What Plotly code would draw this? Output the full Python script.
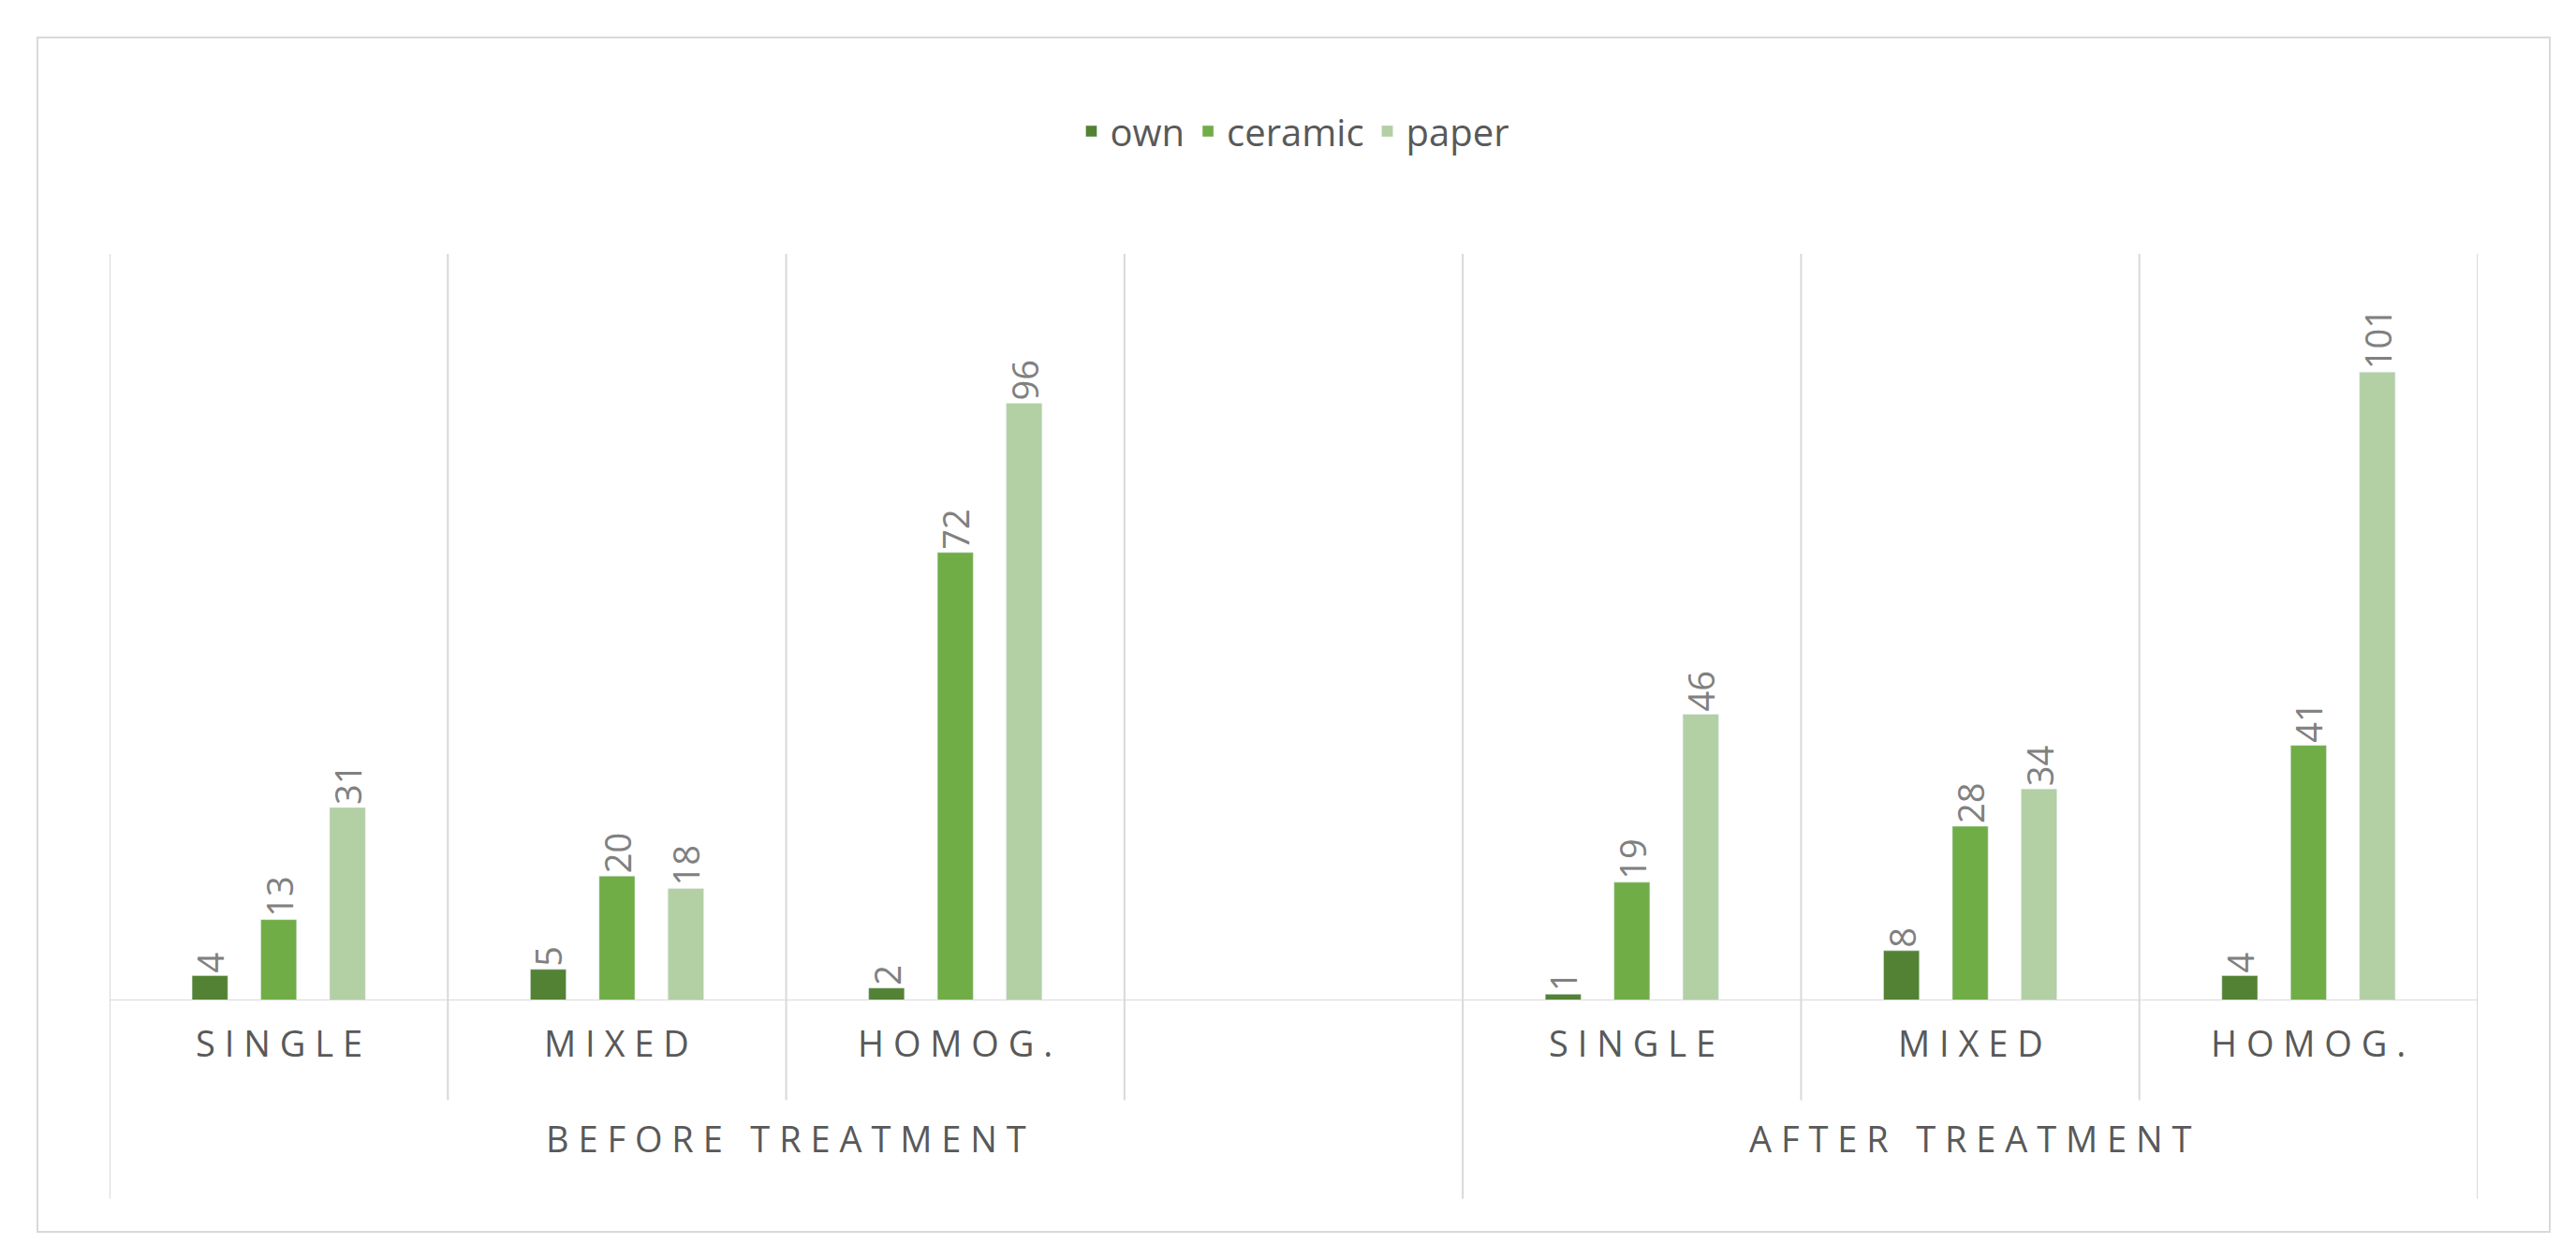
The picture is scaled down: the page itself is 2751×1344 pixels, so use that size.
import plotly.graph_objects as go

cats = ["S I N G L E", "M I X E D", "H O M O G .", " ", "S I N G L E", "M I X E D", "H O M O G ."]
own = [4, 5, 2, None, 1, 8, 4]
ceramic = [13, 20, 72, None, 19, 28, 41]
paper = [31, 18, 96, None, 46, 34, 101]
groups = ["B E F O R E   T R E A T M E N T", "A F T E R   T R E A T M E N T"]
colors = ["#548235", "#70AD47", "#B3CFA4"]
names = ["own", "ceramic", "paper"]

W, H = 2751, 1344
L, R, T, B = 109, 113, 263, 284
fig = go.Figure()
for n, v, c in zip(names, [own, ceramic, paper], colors):
    fig.add_bar(x=list(range(7)), y=v, name=n, marker_color=c,
                text=[("" if a is None else str(a) + "  ") for a in v],
                textposition="outside", textangle=-90, cliponaxis=False, constraintext="none",
                textfont=dict(size=38, color="#808080", family="Open Sans"))

def py(px):
    return (H - px - B) / (H - T - B)

shapes = []
for i in range(8):
    xv = i - 0.5
    low = 725 * 1.754 if i in (0, 4, 7) else 665 * 1.754
    shapes.append(dict(type="line", xref="x", yref="paper", x0=xv, x1=xv,
                       y0=py(low), y1=1, line=dict(color="#D9D9D9", width=2)))
shapes.append(dict(type="line", xref="x", yref="y", x0=-0.5, x1=6.5, y0=0, y1=0,
                   line=dict(color="#D9D9D9", width=2)))
shapes.append(dict(type="rect", xref="paper", yref="paper",
                   x0=(32 - L) / (W - L - R), x1=(2715 - L) / (W - L - R),
                   y0=py(1307), y1=py(32), line=dict(color="#D9D9D9", width=2)))
ann = []
for i, c in enumerate(cats):
    ann.append(dict(x=i, y=py(1133), xref="x", yref="paper", text=c.strip(), showarrow=False,
                    font=dict(size=38, color="#595959", family="Open Sans")))
ann.append(dict(x=1.5, y=py(1235), xref="x", yref="paper", text=groups[0], showarrow=False,
                font=dict(size=38, color="#595959", family="Open Sans")))
ann.append(dict(x=5, y=py(1235), xref="x", yref="paper", text=groups[1], showarrow=False,
                font=dict(size=38, color="#595959", family="Open Sans")))

fig.update_layout(width=W, height=H, margin=dict(l=L, r=R, t=T, b=B),
                  plot_bgcolor="white", paper_bgcolor="white",
                  barmode="group", bargap=0.39, bargroupgap=0.48,
                  shapes=shapes, annotations=ann,
                  legend=dict(orientation="h", x=0.5, xanchor="center", y=py(132), yanchor="middle",
                              font=dict(size=40, color="#595959", family="Open Sans")),
                  xaxis=dict(range=[-0.5, 6.5], showticklabels=False, showgrid=False, zeroline=False),
                  yaxis=dict(range=[0, 120], visible=False))
fig.write_html("out.html")
